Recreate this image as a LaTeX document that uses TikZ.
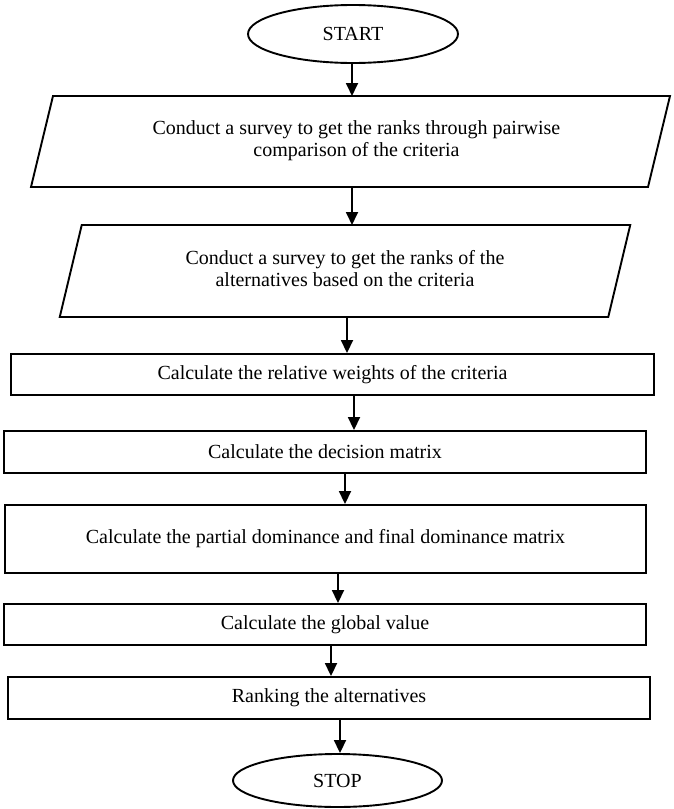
\documentclass[tikz,border=0pt]{standalone}
\usepackage{fontspec}
\setmainfont{Liberation Serif}
\usetikzlibrary{shapes.geometric,arrows.meta}
\begin{document}
\begin{tikzpicture}[x=1pt,y=-1pt,
  every node/.style={font=\fontsize{20}{22}\selectfont, align=center, inner sep=0pt},
  terminal/.style={ellipse, draw, line width=1.9pt, minimum width=210pt, minimum height=58pt},
  procbox/.style={rectangle, draw, line width=1.9pt},
  iobox/.style={rectangle, draw=none, outer sep=0pt},
  arr/.style={line width=1.8pt, -{Triangle[length=13pt,width=12pt]}},
  ioline/.style={line width=1.9pt, line join=miter}
]
\useasboundingbox (0,0) rectangle (673,809);
\fill[white] (0,0) rectangle (673,809);

\node[terminal] (start) at (353,34) {START};

\node[iobox, minimum width=617pt, minimum height=91pt] (p1) at (350.5,141.5)
  {\raisebox{4pt}{\hspace*{12pt}\begin{tabular}{@{}c@{}}Conduct a survey to get the ranks through pairwise\\comparison of the criteria\end{tabular}}};
\draw[ioline] ([xshift=11pt]p1.north west) -- ([xshift=11pt]p1.north east)
  -- ([xshift=-11pt]p1.south east) -- ([xshift=-11pt]p1.south west) -- cycle;

\node[iobox, minimum width=548.5pt, minimum height=92pt] (p2) at (345,271)
  {\raisebox{2pt}{\begin{tabular}{@{}c@{}}Conduct a survey to get the ranks of the\\alternatives based on the criteria\end{tabular}}};
\draw[ioline] ([xshift=11pt]p2.north west) -- ([xshift=11pt]p2.north east)
  -- ([xshift=-11pt]p2.south east) -- ([xshift=-11pt]p2.south west) -- cycle;

\node[procbox, minimum width=643pt, minimum height=41pt] (r3) at (332.5,374.5)
  {Calculate the relative weights of the criteria};
\node[procbox, minimum width=642pt, minimum height=42pt] (r4) at (325,452)
  {Calculate the decision matrix};
\node[procbox, minimum width=641pt, minimum height=68pt] (r5) at (325.5,539)
  {Calculate the partial dominance and final dominance matrix};
\node[procbox, minimum width=642pt, minimum height=41pt] (r6) at (325,624.5)
  {Calculate the global value};
\node[procbox, minimum width=642pt, minimum height=42pt] (r7) at (329,698)
  {Ranking the alternatives};

\node[terminal, minimum width=209pt, minimum height=53pt] (stop) at (337.5,780.5) {STOP};

\draw[arr] (start.south -| 352,0) -- (p1.north -| 352,0);
\draw[arr] (p1.south -| 352,0) -- (p2.north -| 352,0);
\draw[arr] (p2.south -| 347,0) -- (r3.north -| 347,0);
\draw[arr] (r3.south -| 354,0) -- (r4.north -| 354,0);
\draw[arr] (r4.south -| 345,0) -- (r5.north -| 345,0);
\draw[arr] (r5.south -| 338,0) -- (r6.north -| 338,0);
\draw[arr] (r6.south -| 331,0) -- (r7.north -| 331,0);
\draw[arr] (r7.south -| 340,0) -- (stop.north -| 340,0);
\end{tikzpicture}
\end{document}
